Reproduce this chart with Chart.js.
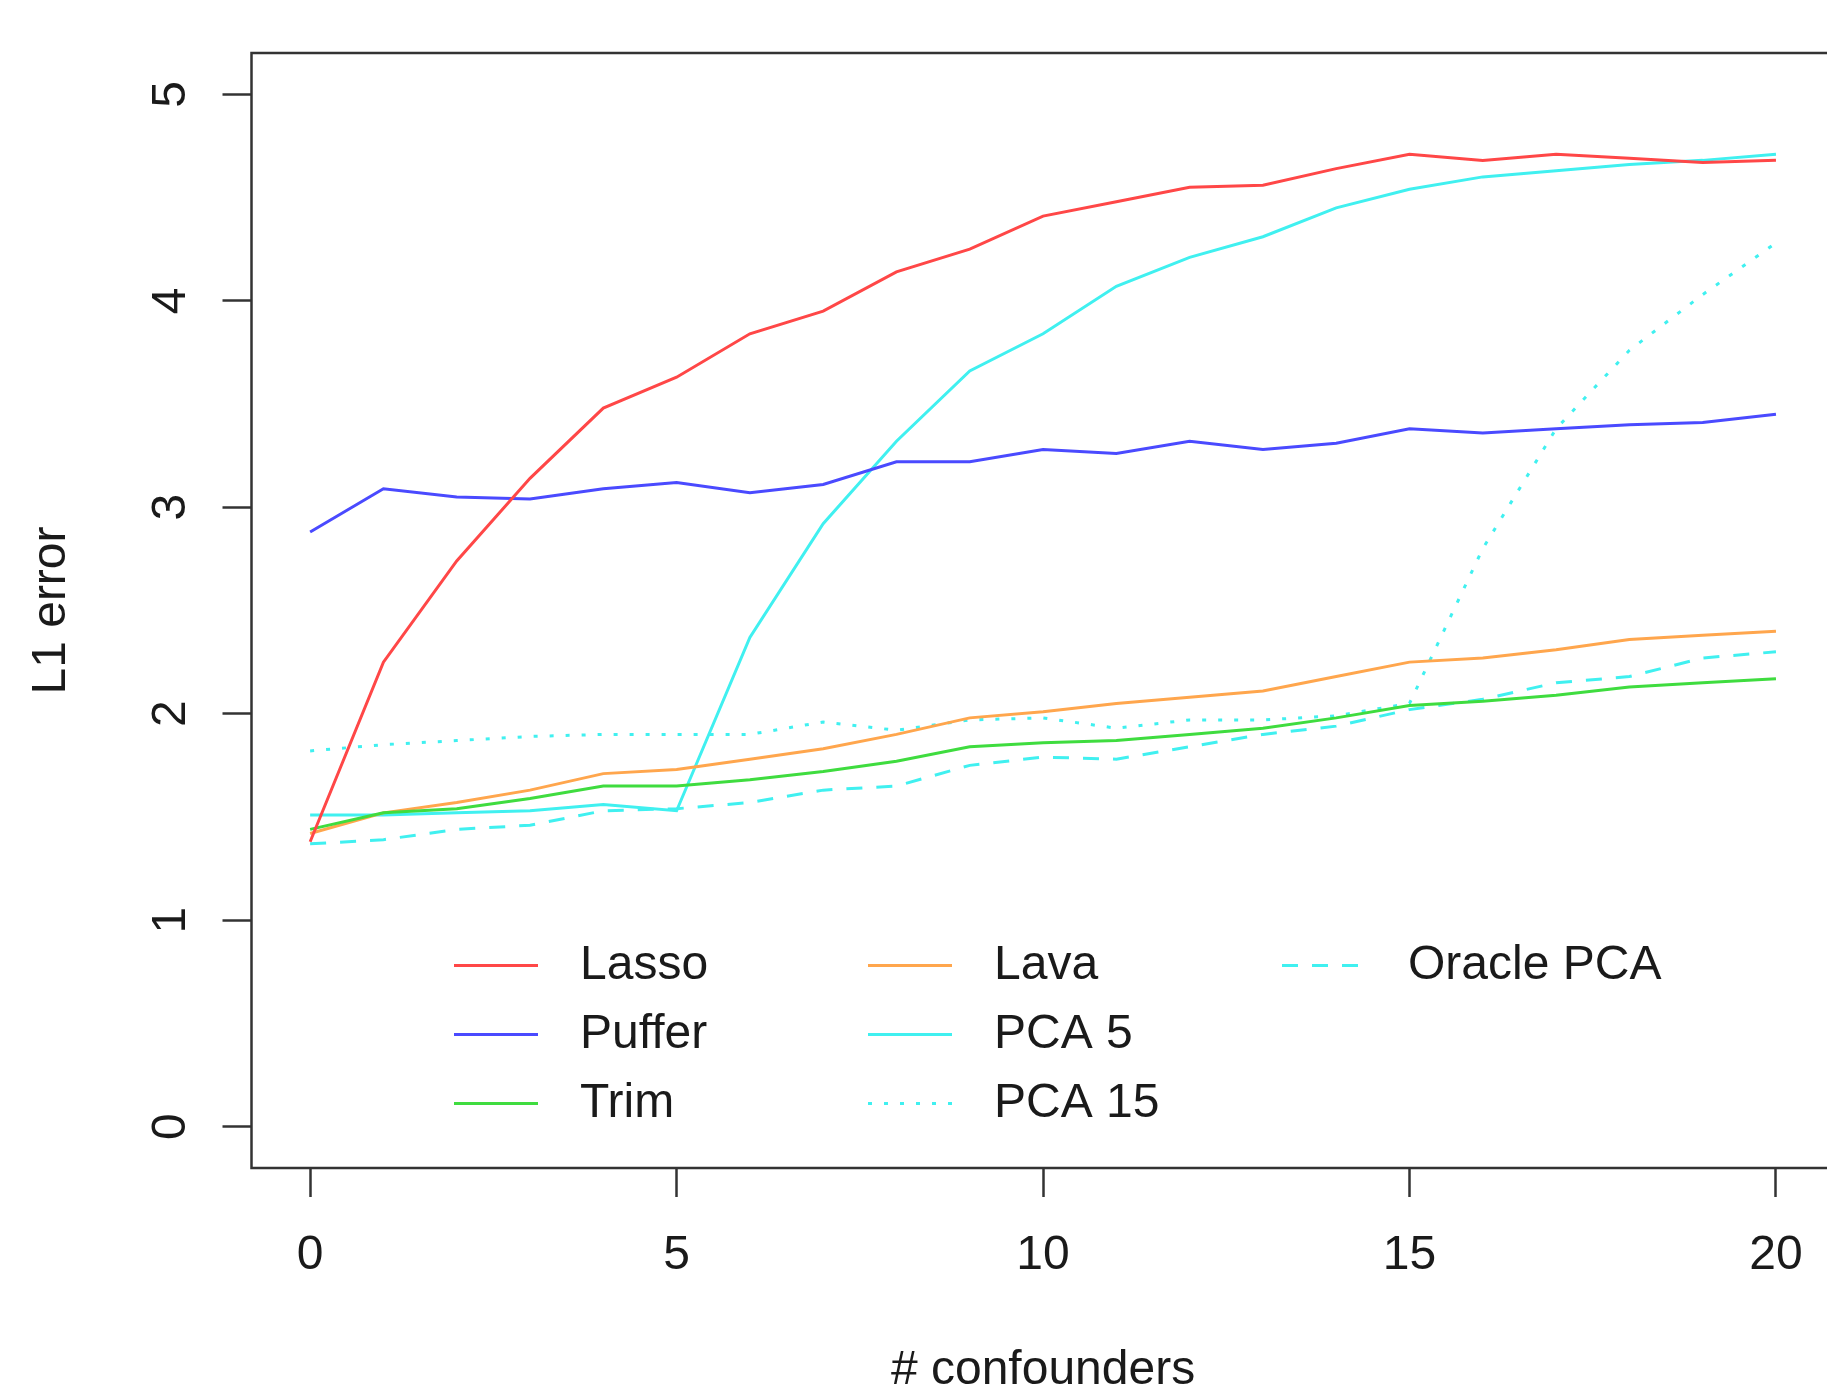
<!DOCTYPE html>
<html>
<head>
<meta charset="utf-8">
<script src="https://cdn.jsdelivr.net/npm/chart.js@4/dist/chart.umd.min.js"></script>
<style>
  html, body { margin: 0; padding: 0; background: #fff; overflow: hidden; }
  #wrap { width: 1840px; height: 1400px; }
</style>
</head>
<body>
<div id="wrap"><canvas id="chart" width="1840" height="1400"></canvas></div>
<script>
// data
const confounders = [0, 1, 2, 3, 4, 5, 6, 7, 8, 9, 10, 11, 12, 13, 14, 15, 16, 17, 18, 19, 20];
const lasso  = [1.38, 2.25, 2.74, 3.14, 3.48, 3.63, 3.84, 3.95, 4.14, 4.25, 4.41, 4.48, 4.55, 4.56, 4.64, 4.71, 4.68, 4.71, 4.69, 4.67, 4.68];
const puffer = [2.88, 3.09, 3.05, 3.04, 3.09, 3.12, 3.07, 3.11, 3.22, 3.22, 3.28, 3.26, 3.32, 3.28, 3.31, 3.38, 3.36, 3.38, 3.40, 3.41, 3.45];
const trim   = [1.44, 1.52, 1.54, 1.59, 1.65, 1.65, 1.68, 1.72, 1.77, 1.84, 1.86, 1.87, 1.90, 1.93, 1.98, 2.04, 2.06, 2.09, 2.13, 2.15, 2.17];
const lava   = [1.42, 1.52, 1.57, 1.63, 1.71, 1.73, 1.78, 1.83, 1.90, 1.98, 2.01, 2.05, 2.08, 2.11, 2.18, 2.25, 2.27, 2.31, 2.36, 2.38, 2.40];
const pca5   = [1.51, 1.51, 1.52, 1.53, 1.56, 1.53, 2.37, 2.92, 3.32, 3.66, 3.84, 4.07, 4.21, 4.31, 4.45, 4.54, 4.60, 4.63, 4.66, 4.68, 4.71];
const pca15  = [1.82, 1.85, 1.87, 1.89, 1.90, 1.90, 1.90, 1.96, 1.92, 1.97, 1.98, 1.93, 1.97, 1.97, 1.99, 2.05, 2.80, 3.38, 3.76, 4.03, 4.28];
const oracle = [1.37, 1.39, 1.44, 1.46, 1.53, 1.54, 1.57, 1.63, 1.65, 1.75, 1.79, 1.78, 1.84, 1.90, 1.94, 2.02, 2.07, 2.15, 2.18, 2.27, 2.30];

const seriesNames = ['Lasso', 'Puffer', 'Trim', 'Lava', 'PCA 5', 'PCA 15', 'Oracle PCA'];
const xTicks = [0, 5, 10, 15, 20];
const yTicks = [0, 1, 2, 3, 4, 5];

const FONT = '"Liberation Sans", Arial, Helvetica, sans-serif';
const INK = '#1a1a1a';

function line(label, values, color, dash) {
    return {
        label: label,
        data: values.map((v, i) => ({ x: confounders[i], y: v })),
        borderColor: color,
        backgroundColor: color,
        borderWidth: 3,
        borderDash: dash || [],
        pointRadius: 0,
        tension: 0,
        fill: false
    };
}

// box around the plot region + legend laid out in 3 columns like R's legend(ncol=3)
const frameAndLegend = {
    id: 'frameAndLegend',
    afterDraw(chart) {
        const ctx = chart.ctx;
        const a = chart.chartArea;
        ctx.save();
        ctx.strokeStyle = '#333';
        ctx.lineWidth = 2.5;
        ctx.strokeRect(a.left, a.top, a.right - a.left, a.bottom - a.top);

        const colX = a.left + 202.5;
        const rowY = a.bottom - 202.5;
        ctx.font = '48px ' + FONT;
        ctx.textBaseline = 'middle';
        ctx.textAlign = 'left';
        chart.data.datasets.forEach((ds, i) => {
            const col = Math.floor(i / 3), row = i % 3;
            const x = colX + col * 414;
            const y = rowY + row * 69;
            ctx.strokeStyle = ds.borderColor;
            ctx.lineWidth = 3;
            ctx.setLineDash(ds.borderDash);
            ctx.beginPath();
            ctx.moveTo(x, y);
            ctx.lineTo(x + 84, y);
            ctx.stroke();
            ctx.setLineDash([]);
            ctx.fillStyle = INK;
            ctx.fillText(ds.label, x + 126, y);
        });
        ctx.restore();
    }
};

new Chart(document.getElementById('chart'), {
    type: 'line',
    data: {
        datasets: [
            line(seriesNames[0], lasso, '#ff4747'),
            line(seriesNames[1], puffer, '#4a4aff'),
            line(seriesNames[2], trim, '#3fdc3f'),
            line(seriesNames[3], lava, '#ffa64d'),
            line(seriesNames[4], pca5, '#40f0f0'),
            line(seriesNames[5], pca15, '#40f0f0', [4, 12]),
            line(seriesNames[6], oracle, '#40f0f0', [16, 14])
        ]
    },
    options: {
        responsive: false,
        animation: false,
        layout: { padding: { top: 53, right: 5.4, bottom: 0, left: 0 } },
        plugins: { legend: { display: false }, tooltip: { enabled: false } },
        scales: {
            x: {
                type: 'linear',
                min: -0.8,
                max: 20.8,
                afterBuildTicks: s => { s.ticks = xTicks.map(v => ({ value: v })); },
                afterFit: s => { s.height = 232; s.paddingLeft = 0; s.paddingRight = 0; },
                border: { display: false },
                grid: { drawOnChartArea: false, drawTicks: true, tickLength: 29, tickColor: '#333', tickWidth: 2.5 },
                ticks: { color: INK, padding: 30, maxRotation: 0, font: { family: FONT, size: 48 } },
                title: { display: true, text: '# confounders', color: INK, padding: { top: 0, bottom: 0 }, font: { family: FONT, size: 48 } }
            },
            y: {
                type: 'linear',
                min: -0.2,
                max: 5.2,
                afterBuildTicks: s => { s.ticks = yTicks.map(v => ({ value: v })); },
                afterFit: s => { s.width = 251.5; s.paddingTop = 0; s.paddingBottom = 0; },
                border: { display: false },
                grid: { drawOnChartArea: false, drawTicks: true, tickLength: 29, tickColor: '#333', tickWidth: 2.5 },
                ticks: { color: INK, padding: 37, minRotation: 90, maxRotation: 90, crossAlign: 'center', font: { family: FONT, size: 48 } },
                title: { display: true, text: 'L1 error', color: INK, padding: { top: 23, bottom: 0 }, font: { family: FONT, size: 48 } }
            }
        }
    },
    plugins: [frameAndLegend]
});
</script>
</body>
</html>
